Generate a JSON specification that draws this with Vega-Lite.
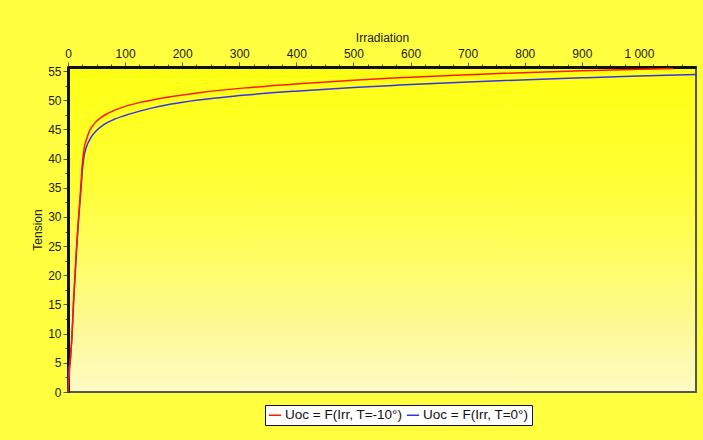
{
  "$schema": "https://vega.github.io/schema/vega-lite/v6.json",
  "width": 628,
  "height": 325,
  "autosize": "none",
  "padding": {"left": 68, "top": 67, "right": 7, "bottom": 48},
  "background": "#ffff40",
  "config": {
    "font": "Liberation Sans",
    "view": {
      "fill": {"gradient": "linear", "x1": 0, "y1": 0, "x2": 0, "y2": 1,
        "stops": [{"offset": 0, "color": "#ffff14"}, {"offset": 0.35, "color": "#ffff33"}, {"offset": 0.6, "color": "#fefd66"}, {"offset": 0.8, "color": "#fdf995"}, {"offset": 1, "color": "#fdfbc4"}]},
      "stroke": "#555555",
      "strokeWidth": 2
    }
  },
  "data": {
    "values": [
      {"irr": 0, "u": 0, "serie": "Uoc = F(Irr, T=0°)"},
      {"irr": 1, "u": 4, "serie": "Uoc = F(Irr, T=0°)"},
      {"irr": 3.8, "u": 5, "serie": "Uoc = F(Irr, T=0°)"},
      {"irr": 5.5, "u": 7.5, "serie": "Uoc = F(Irr, T=0°)"},
      {"irr": 7.3, "u": 10, "serie": "Uoc = F(Irr, T=0°)"},
      {"irr": 9.6, "u": 15, "serie": "Uoc = F(Irr, T=0°)"},
      {"irr": 12.5, "u": 20, "serie": "Uoc = F(Irr, T=0°)"},
      {"irr": 15.4, "u": 25, "serie": "Uoc = F(Irr, T=0°)"},
      {"irr": 18.9, "u": 30, "serie": "Uoc = F(Irr, T=0°)"},
      {"irr": 23, "u": 35, "serie": "Uoc = F(Irr, T=0°)"},
      {"irr": 25, "u": 37.8, "serie": "Uoc = F(Irr, T=0°)"},
      {"irr": 27.5, "u": 40, "serie": "Uoc = F(Irr, T=0°)"},
      {"irr": 32, "u": 41.9, "serie": "Uoc = F(Irr, T=0°)"},
      {"irr": 40, "u": 43.6, "serie": "Uoc = F(Irr, T=0°)"},
      {"irr": 50, "u": 44.8, "serie": "Uoc = F(Irr, T=0°)"},
      {"irr": 64, "u": 45.9, "serie": "Uoc = F(Irr, T=0°)"},
      {"irr": 80, "u": 46.7, "serie": "Uoc = F(Irr, T=0°)"},
      {"irr": 100, "u": 47.4, "serie": "Uoc = F(Irr, T=0°)"},
      {"irr": 134, "u": 48.35, "serie": "Uoc = F(Irr, T=0°)"},
      {"irr": 181, "u": 49.35, "serie": "Uoc = F(Irr, T=0°)"},
      {"irr": 228, "u": 50.05, "serie": "Uoc = F(Irr, T=0°)"},
      {"irr": 300, "u": 50.8, "serie": "Uoc = F(Irr, T=0°)"},
      {"irr": 405, "u": 51.6, "serie": "Uoc = F(Irr, T=0°)"},
      {"irr": 500, "u": 52.2, "serie": "Uoc = F(Irr, T=0°)"},
      {"irr": 580, "u": 52.6, "serie": "Uoc = F(Irr, T=0°)"},
      {"irr": 680, "u": 53.05, "serie": "Uoc = F(Irr, T=0°)"},
      {"irr": 755, "u": 53.35, "serie": "Uoc = F(Irr, T=0°)"},
      {"irr": 900, "u": 53.85, "serie": "Uoc = F(Irr, T=0°)"},
      {"irr": 1000, "u": 54.15, "serie": "Uoc = F(Irr, T=0°)"},
      {"irr": 1100, "u": 54.4, "serie": "Uoc = F(Irr, T=0°)"},
      {"irr": 0, "u": 0, "serie": "Uoc = F(Irr, T=-10°)"},
      {"irr": 3.7, "u": 5, "serie": "Uoc = F(Irr, T=-10°)"},
      {"irr": 7.1, "u": 10, "serie": "Uoc = F(Irr, T=-10°)"},
      {"irr": 9.4, "u": 15, "serie": "Uoc = F(Irr, T=-10°)"},
      {"irr": 12.2, "u": 20, "serie": "Uoc = F(Irr, T=-10°)"},
      {"irr": 15.1, "u": 25, "serie": "Uoc = F(Irr, T=-10°)"},
      {"irr": 18.5, "u": 30, "serie": "Uoc = F(Irr, T=-10°)"},
      {"irr": 22.3, "u": 35, "serie": "Uoc = F(Irr, T=-10°)"},
      {"irr": 25, "u": 39, "serie": "Uoc = F(Irr, T=-10°)"},
      {"irr": 28, "u": 41.6, "serie": "Uoc = F(Irr, T=-10°)"},
      {"irr": 32, "u": 43.2, "serie": "Uoc = F(Irr, T=-10°)"},
      {"irr": 38, "u": 44.8, "serie": "Uoc = F(Irr, T=-10°)"},
      {"irr": 46, "u": 46.0, "serie": "Uoc = F(Irr, T=-10°)"},
      {"irr": 58.6, "u": 47.1, "serie": "Uoc = F(Irr, T=-10°)"},
      {"irr": 82, "u": 48.3, "serie": "Uoc = F(Irr, T=-10°)"},
      {"irr": 100, "u": 48.95, "serie": "Uoc = F(Irr, T=-10°)"},
      {"irr": 123, "u": 49.55, "serie": "Uoc = F(Irr, T=-10°)"},
      {"irr": 158, "u": 50.25, "serie": "Uoc = F(Irr, T=-10°)"},
      {"irr": 233, "u": 51.35, "serie": "Uoc = F(Irr, T=-10°)"},
      {"irr": 320, "u": 52.2, "serie": "Uoc = F(Irr, T=-10°)"},
      {"irr": 405, "u": 52.85, "serie": "Uoc = F(Irr, T=-10°)"},
      {"irr": 500, "u": 53.45, "serie": "Uoc = F(Irr, T=-10°)"},
      {"irr": 580, "u": 53.85, "serie": "Uoc = F(Irr, T=-10°)"},
      {"irr": 680, "u": 54.3, "serie": "Uoc = F(Irr, T=-10°)"},
      {"irr": 755, "u": 54.6, "serie": "Uoc = F(Irr, T=-10°)"},
      {"irr": 900, "u": 55.05, "serie": "Uoc = F(Irr, T=-10°)"},
      {"irr": 1000, "u": 55.3, "serie": "Uoc = F(Irr, T=-10°)"},
      {"irr": 1060, "u": 55.45, "serie": "Uoc = F(Irr, T=-10°)"}
    ]
  },
  "mark": {"type": "line", "strokeWidth": 1.5, "interpolate": "monotone"},
  "encoding": {
    "x": {
      "field": "irr", "type": "quantitative",
      "scale": {"domain": [0, 1100], "nice": false},
      "axis": {
        "orient": "top",
        "title": "Irradiation",
        "titleFontWeight": "normal", "titleFontSize": 12, "titleColor": "#222222", "titlePadding": 3,
        "values": [0,25,50,75,100,125,150,175,200,225,250,275,300,325,350,375,400,425,450,475,500,525,550,575,600,625,650,675,700,725,750,775,800,825,850,875,900,925,950,975,1000,1025,1050,1075],
        "labelExpr": "datum.value % 100 === 0 ? replace(format(datum.value, ','), ',', ' ') : ''",
        "labelOverlap": false, "labelFlush": false,
        "labelFontSize": 12, "labelColor": "#222222", "labelPadding": 2,
        "tickSize": {"condition": {"test": "datum.value % 100 === 0", "value": 5}, "value": 3},
        "tickColor": "#555555",
        "domainColor": "#111111", "domainWidth": 3,
        "grid": false
      }
    },
    "y": {
      "field": "u", "type": "quantitative",
      "scale": {"domain": [0, 55.7], "nice": false},
      "axis": {
        "title": "Tension",
        "titleFontWeight": "normal", "titleFontSize": 12, "titleColor": "#222222", "titlePadding": 3,
        "values": [0,2.5,5,7.5,10,12.5,15,17.5,20,22.5,25,27.5,30,32.5,35,37.5,40,42.5,45,47.5,50,52.5,55],
        "labelExpr": "datum.value % 5 === 0 ? format(datum.value, 'd') : ''",
        "labelOverlap": false, "labelFlush": false,
        "labelFontSize": 12, "labelColor": "#222222", "labelPadding": 2,
        "tickSize": {"condition": {"test": "datum.value % 5 === 0", "value": 5}, "value": 3},
        "tickColor": "#555555",
        "domainColor": "#111111", "domainWidth": 3,
        "grid": false
      }
    },
    "color": {
      "field": "serie", "type": "nominal",
      "scale": {"domain": ["Uoc = F(Irr, T=-10°)", "Uoc = F(Irr, T=0°)"], "range": ["#ff1a00", "#3333ee"]},
      "legend": {
        "orient": "none", "legendX": 197, "legendY": 338,
        "direction": "horizontal", "title": null,
        "fillColor": "#ffffff", "strokeColor": "#111111", "padding": 3,
        "labelFontSize": 13.5, "labelColor": "#111111", "labelOffset": 3,
        "symbolType": "stroke", "symbolStrokeWidth": 1.5, "symbolSize": 150,
        "columnPadding": 0
      }
    }
  }
}
